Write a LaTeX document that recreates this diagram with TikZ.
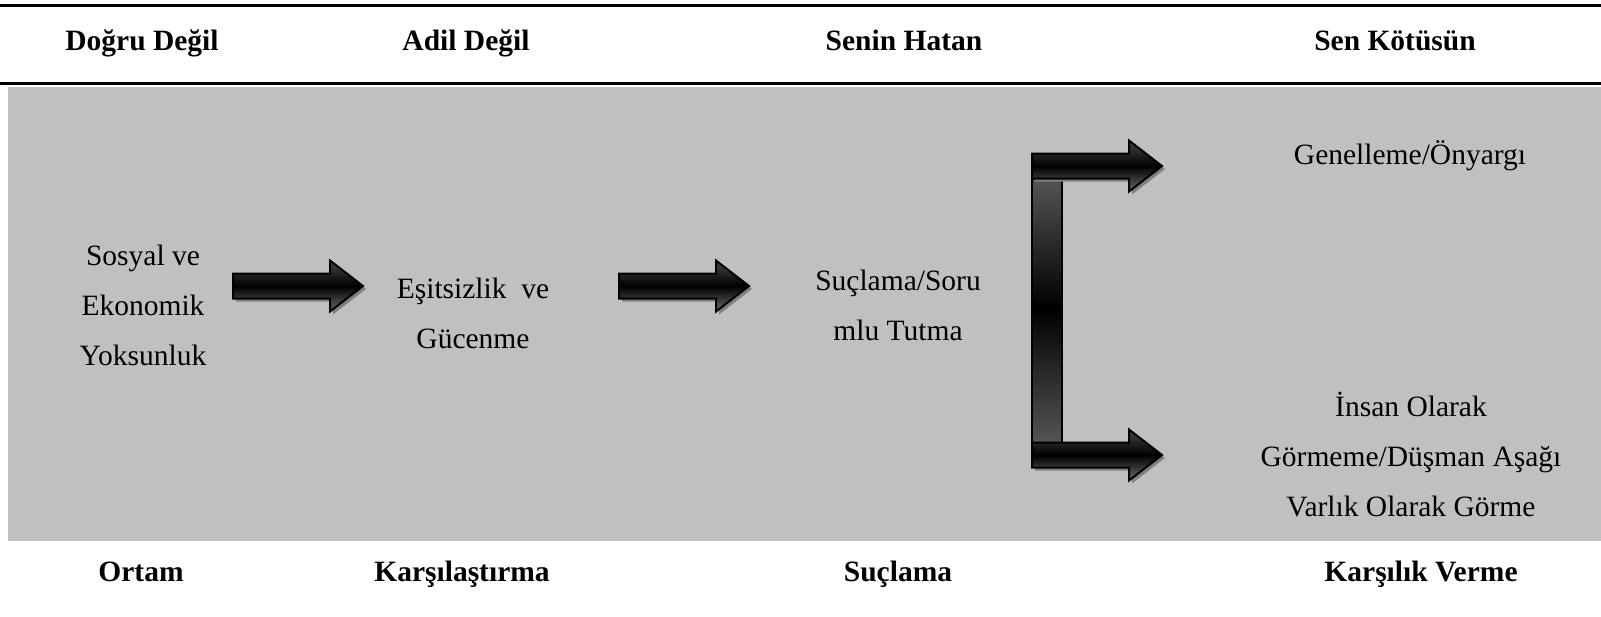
\documentclass[tikz,border=0pt]{standalone}
\usepackage{fontspec}
\setmainfont{Liberation Serif}
\usetikzlibrary{positioning,calc}
\definecolor{panelgray}{RGB}{192,192,192}
\definecolor{shadowgray}{RGB}{128,128,128}

\begin{document}
\begin{tikzpicture}[
    x=0.4pt, y=-0.4pt,
    title/.style={font=\fontsize{11.8}{14}\selectfont\bfseries, inner sep=0pt, anchor=base},
    label/.style={font=\fontsize{11.8}{20}\selectfont, align=center, inner sep=0pt},
    rule/.style={line width=1.2pt, black},
    blockarrow/.pic={
        \fill[shadowgray] (3,-9.5) -- (100,-9.5) -- (100,-22.5) -- (133,3) -- (100,28.5) -- (100,15.5) -- (3,15.5) -- cycle;
        \path[draw=black, line width=0.8pt, top color=black!72, bottom color=black!58, middle color=black]
            (0,-12.5) -- (97,-12.5) -- (97,-25.5) -- (130,0) -- (97,25.5) -- (97,12.5) -- (0,12.5) -- cycle;
    }
]
    \useasboundingbox (0,0) rectangle (1601,616);

    % Panel and rules
    \fill[panelgray] (8,87) rectangle (1601,541);
    \draw[rule] (0,5) -- (1601,5);
    \draw[rule] (0,83) -- (1601,83);

    % Headers
    \node[title] (hdr1) at (142,50) {Doğru Değil};
    \node[title] (hdr2) at (466,50) {Adil Değil};
    \node[title] (hdr3) at (904,50) {Senin Hatan};
    \node[title] (hdr4) at (1395,50) {Sen Kötüsün};

    % Stages
    \node[label] (env) at (143,305) {Sosyal ve\\Ekonomik\\Yoksunluk};
    \node[label] (ineq) at (473,313) {Eşitsizlik\ \ ve\\Gücenme};
    \node[label] (blame) at (898,305) {Suçlama/Soru\\mlu Tutma};
    \node[label] (general) at (1410,156) {Genelleme/Önyargı};
    \node[label] (dehuman) at (1411,455) {İnsan Olarak\\Görmeme/Düşman Aşağı\\Varlık Olarak Görme};

    % Arrows
    \pic at (233,286) {blockarrow};
    \pic at (619,286) {blockarrow};

    % Bracket
    \shade[top color=black!62, bottom color=black] (1032,160) rectangle (1062,308);
    \shade[top color=black, bottom color=black!62] (1032,308) rectangle (1062,462);
    \draw[line width=0.8pt] (1032,160) rectangle (1062,462);
    \draw[line width=1pt] (1032,308) -- (1062,308);
    \pic at (1032,166) {blockarrow};
    \pic at (1032,455) {blockarrow};

    % Footers
    \node[title] (ftr1) at (141,581) {Ortam};
    \node[title] (ftr2) at (462,581) {Karşılaştırma};
    \node[title] (ftr3) at (898,581) {Suçlama};
    \node[title] (ftr4) at (1421,581) {Karşılık Verme};
\end{tikzpicture}
\end{document}
